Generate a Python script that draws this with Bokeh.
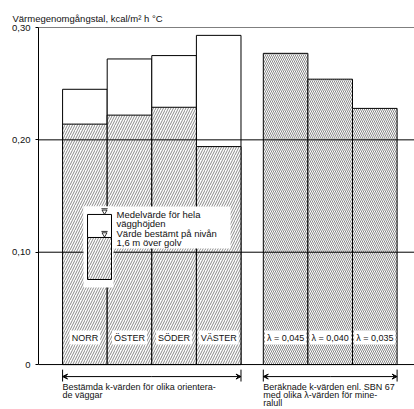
from bokeh.plotting import figure
from bokeh.models import Range1d, FixedTicker, Arrow, VeeHead
from bokeh.core.properties import value
from bokeh.embed import file_html
from bokeh.resources import INLINE

# ---------------- data ----------------
orient_labels = ["NORR", "ÖSTER", "SÖDER", "VÄSTER"]
k_mean_wall = [0.245, 0.272, 0.275, 0.293]      # Medelvärde för hela vägghöjden
k_at_16m = [0.214, 0.222, 0.229, 0.194]         # Värde bestämt på nivån 1,6 m över golv
lambda_labels = ["λ = 0,045", "λ = 0,040", "λ = 0,035"]
k_calculated = [0.277, 0.254, 0.228]            # Beräknade k-värden enl. SBN 67
y_ticks = [0, 0.1, 0.2, 0.3]
y_tick_labels = ["0", "0,10", "0,20", "0,30"]
title_text = "Värmegenomgångstal, kcal/m² h °C"
caption_left = ["Bestämda k-värden för olika orientera-", "de väggar"]
caption_right = ["Beräknade k-värden enl. SBN 67", "med olika λ-värden för mine-", "ralull"]
legend_texts = ["Medelvärde för hela", "vägghöjden", "Värde bestämt på nivån", "1,6 m  över golv"]

FONT = value("Liberation Sans")
FS = "9.5px"
HATCH_C = "#555555"

# ---------------- layout ----------------
left_x = [i + 0.5 for i in range(len(orient_labels))]
right_x = [len(orient_labels) + 1.0 + i for i in range(len(lambda_labels))]

p = figure(width=414, height=409, output_backend="svg", toolbar_location=None,
           x_range=Range1d(-0.54, 7.89), y_range=Range1d(-0.040, 0.30),
           x_axis_type=None, min_border_left=38, min_border_right=0,
           min_border_top=27, min_border_bottom=0)
p.outline_line_color = None
p.background_fill_color = "white"
p.border_fill_color = "white"
p.xgrid.visible = False
p.ygrid.visible = False

p.title.text = title_text
p.title.align = "left"
p.title.offset = -26
p.title.text_font = "Liberation Sans"
p.title.text_font_size = FS
p.title.text_font_style = "normal"
p.title.text_color = "#111111"
p.title.standoff = 8

ax = p.yaxis[0]
ax.ticker = FixedTicker(ticks=y_ticks)
ax.major_label_overrides = {t: l for t, l in zip(y_ticks, y_tick_labels)}
ax.bounds = (0, 0.3)
ax.major_tick_out = 3
ax.major_tick_in = 0
ax.minor_tick_line_color = None
ax.major_label_standoff = 5
ax.major_label_text_font = "Liberation Sans"
ax.major_label_text_font_size = FS
ax.major_label_text_color = "#111111"
ax.axis_line_color = "black"
ax.major_tick_line_color = "black"

# bars: measured walls
p.vbar(x=left_x, width=1, bottom=0, top=k_mean_wall, fill_color="white",
       line_color="black", line_width=1)
p.vbar(x=left_x, width=1, bottom=0, top=k_at_16m, fill_color="white",
       line_color="black", line_width=1, hatch_pattern="right_diagonal_line",
       hatch_color=HATCH_C, hatch_scale=5, hatch_weight=0.7)
# bars: calculated
p.vbar(x=right_x, width=1, bottom=0, top=k_calculated, fill_color="white",
       line_color="black", line_width=1, hatch_pattern="left_diagonal_line",
       hatch_color=HATCH_C, hatch_scale=4, hatch_weight=0.7)

# grid lines over bars
xr = p.x_range
p.segment(x0=[xr.start] * len(y_ticks), x1=[xr.end] * len(y_ticks),
          y0=y_ticks, y1=y_ticks, line_color="black", line_width=1)

# bar labels
lab_y = 0.024
p.text(x=left_x + right_x, y=[lab_y] * 7, text=orient_labels + lambda_labels,
       text_font=FONT, text_font_size="9px", text_align="center",
       text_baseline="middle", text_color="#111111",
       background_fill_color="white", padding=2)

# brackets below
groups = [(left_x[0] - 0.5, left_x[-1] + 0.5), (right_x[0] - 0.5, right_x[-1] + 0.5)]
by = -0.0107
for g0, g1 in groups:
    p.segment(x0=[g0, g1], x1=[g0, g1], y0=[-0.0045, -0.0045], y1=[-0.0151, -0.0151],
              line_color="black", line_width=1)
    p.add_layout(Arrow(x_start=(g0 + g1) / 2, x_end=g0, y_start=by, y_end=by,
                       end=VeeHead(size=5, line_width=1), line_width=1))
    p.add_layout(Arrow(x_start=(g0 + g1) / 2, x_end=g1, y_start=by, y_end=by,
                       end=VeeHead(size=5, line_width=1), line_width=1))

line_step = 0.0069
cap_x, cap_y, cap_t = [], [], []
for (g0, _), lines in zip(groups, [caption_left, caption_right]):
    for i, t in enumerate(lines):
        cap_x.append(g0)
        cap_y.append(-0.0203 - i * line_step)
        cap_t.append(t)
p.text(x=cap_x, y=cap_y, text=cap_t, text_font=FONT, text_font_size="9px",
       text_align="left", text_baseline="middle", text_color="#111111")

# legend box
p.quad(left=[0.469, 0.469], right=[3.765, 1.142], bottom=[0.1033, 0.0686],
       top=[0.1407, 0.1407], fill_color="white", line_color=None)
p.quad(left=[0.559], right=[1.097], bottom=[0.1131], top=[0.1336],
       fill_color="white", line_color="black", line_width=1)
p.quad(left=[0.559], right=[1.097], bottom=[0.0757], top=[0.1131],
       fill_color="white", line_color="black", line_width=1,
       hatch_pattern="right_diagonal_line", hatch_color=HATCH_C, hatch_scale=5,
       hatch_weight=0.7)
p.scatter(x=[0.94, 0.94], y=[0.1362, 0.1160], marker="inverted_triangle", size=5,
          fill_color="white", line_color="black", line_width=0.8)
p.segment(x0=[0.87, 0.87], x1=[1.01, 1.01], y0=[0.1387, 0.1185], y1=[0.1387, 0.1185],
          line_color="black", line_width=0.8)
p.text(x=[1.209] * 4, y=[0.1335, 0.1255, 0.1166, 0.1086], text=legend_texts,
       text_font=FONT, text_font_size=FS, text_align="left", text_baseline="middle",
       text_color="#111111")

open("out.html", "w").write(file_html(p, INLINE))
